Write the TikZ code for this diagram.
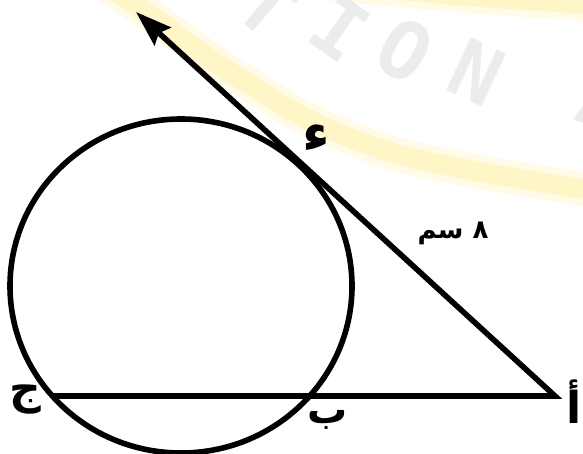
\documentclass[tikz,border=0pt]{standalone}
\usepackage{fontspec}
\newfontfamily\arabicfont[Script=Arabic]{DejaVu Sans}
\newfontfamily\wmfont{DejaVu Sans Mono}
\usetikzlibrary{arrows.meta}
\TeXXeTstate=1
\definecolor{bandyellow}{RGB}{255,246,200}
\definecolor{bandyellowlight}{RGB}{255,251,232}
\definecolor{wmgray}{RGB}{236,236,236}
\begin{document}
\begin{tikzpicture}[x=1pt,y=-1pt,
  geo/.style={line width=5.6pt, line join=miter},
  lbl/.style={font=\arabicfont\bfseries\fontsize{40}{44}\selectfont, inner sep=0pt},
  bandouter/.style={line width=34pt, draw=bandyellowlight},
  bandinner/.style={line width=20pt, draw=bandyellow},
  wm/.style={font=\wmfont\bfseries\fontsize{80}{80}\selectfont, text=wmgray, inner sep=0pt}]
\useasboundingbox (0,0) rectangle (583,454);
\begin{scope}
\clip (0,0) rectangle (583,454);
% watermark
\draw[bandouter] plot[smooth] coordinates {(90,-25) (150,15) (200,52) (250,85) (300,115) (350,138) (400,155) (480,172) (600,192)};
\draw[bandinner] plot[smooth] coordinates {(90,-25) (150,15) (200,52) (250,85) (300,115) (350,138) (400,155) (480,172) (600,192)};
\draw[bandouter] plot[smooth] coordinates {(330,-16) (400,-10) (467,-4) (600,5)};
\draw[bandinner] plot[smooth] coordinates {(330,-16) (400,-10) (467,-4) (600,5)};
\node[wm, rotate=-40] (wT) at (268,6) {T};
\node[wm, rotate=-35] (wI) at (340,28) {I};
\node[wm, rotate=-30] (wO) at (405,50) {O};
\node[wm, rotate=-25] (wN) at (477,72) {N};
\node[wm, rotate=-20] (wA) at (605,100) {A};
% geometry
\coordinate (C) at (181,286);
\coordinate (A) at (555,396);
\coordinate (T) at (136,12);
\coordinate (J) at (52.3,396);
\coordinate (B) at (309.7,396);
\draw[geo] (C) ellipse[x radius=171, y radius=167];
\draw[geo, -{Stealth[length=36pt,width=24pt,inset=5pt]}] (J) -- (A) -- (T);
% labels
\node[lbl, font=\arabicfont\bfseries\fontsize{44}{48}\selectfont] (lA) at (574,402) {\beginR أ\endR};
\node[lbl] (lB) at (328,420) {\beginR ب\endR};
\node[lbl, font=\arabicfont\bfseries\fontsize{44}{48}\selectfont] (lJ) at (25,400) {\beginR ج\endR};
\node[lbl, font=\arabicfont\bfseries\fontsize{54}{58}\selectfont] (lD) at (316,138) {\beginR ء\endR};
\node[lbl, font=\arabicfont\bfseries\fontsize{26}{30}\selectfont] (lL) at (453,233) {\beginR ٨ سم\endR};
\end{scope}
\end{tikzpicture}
\end{document}
